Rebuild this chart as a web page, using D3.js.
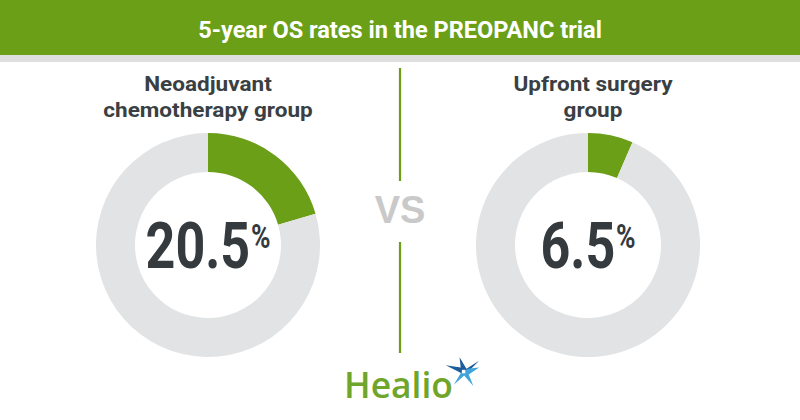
<!DOCTYPE html>
<html>
<head>
<meta charset="utf-8">
<script src="https://cdn.jsdelivr.net/npm/d3@7"></script>
<style>
  html, body { margin: 0; padding: 0; background: #ffffff; }
  svg { display: block; }
</style>
</head>
<body>
<svg id="chart" width="800" height="420"></svg>
<script>
// ---- data ----
const title = "5-year OS rates in the PREOPANC trial";
const groups = ["Neoadjuvant chemotherapy group", "Upfront surgery group"];
const labelLines = [["Neoadjuvant", "chemotherapy group"], ["Upfront surgery", "group"]];
const rates = [20.5, 6.5];
const rateLabels = ["20.5", "6.5"];
const vsText = "VS";
const brand = "Healio";

// ---- styles ----
const GREEN = "#6a9f17";
const RING = "#e2e3e4";
const DARK = "#343a3e";
const W = 800, H = 420;
const svg = d3.select("#chart");

// header
svg.append("rect").attr("x", 0).attr("y", 0).attr("width", W).attr("height", 55).attr("fill", GREEN);
svg.append("rect").attr("x", 0).attr("y", 55).attr("width", W).attr("height", 7).attr("fill", "#dedede");

const tg = svg.append("g").attr("transform", "translate(400,0)");
const tt = tg.append("text")
  .attr("x", 0).attr("y", 38.5)
  .attr("text-anchor", "middle")
  .attr("font-family", "Roboto, 'Open Sans', sans-serif")
  .attr("font-weight", 700)
  .attr("font-size", 23.5)
  .attr("fill", "#ffffff")
  .text(title);
const tw = tt.node().getComputedTextLength();
tt.attr("transform", `scale(${404 / tw},1)`);

// divider
const divider = [[68, 181], [242, 353]];
svg.selectAll("line.div").data(divider).join("line")
  .attr("class", "div")
  .attr("x1", 400).attr("x2", 400)
  .attr("y1", d => d[0]).attr("y2", d => d[1])
  .attr("stroke", GREEN).attr("stroke-width", 2.2);

svg.append("text")
  .attr("x", 400).attr("y", 223)
  .attr("text-anchor", "middle")
  .attr("font-family", "'Liberation Sans', Arial, sans-serif")
  .attr("font-weight", 700)
  .attr("font-size", 38)
  .attr("fill", "#c9c9c9")
  .text(vsText);

// donuts
const x = d3.scalePoint().domain(groups).range([208, 588]);
const cy = 245;
const outerR = 112, innerR = 73;
const pie = d3.pie().sort(null).value(d => d);
const arc = d3.arc().innerRadius(innerR).outerRadius(outerR);

groups.forEach((g, i) => {
  const cx = x(g);
  const gg = svg.append("g").attr("transform", `translate(${cx},${cy})`);
  gg.selectAll("path").data(pie([rates[i], 100 - rates[i]])).join("path")
    .attr("d", arc)
    .attr("fill", (d, j) => j === 0 ? GREEN : RING);

  // value label
  const inner = gg.append("g");
  const num = inner.append("text")
    .attr("x", 0).attr("y", 23)
    .attr("font-family", "Roboto, sans-serif")
    .attr("font-weight", 700)
    .attr("font-size", 65)
    .attr("fill", DARK)
    .text(rateLabels[i]);
  const nw = num.node().getComputedTextLength();
  const pct = inner.append("text")
    .attr("x", nw + 1).attr("y", 3)
    .attr("font-family", "Roboto, sans-serif")
    .attr("font-weight", 700)
    .attr("font-size", 33)
    .attr("fill", DARK)
    .text("%");
  const pw = pct.node().getComputedTextLength();
  const sx = 0.8;
  const total = (nw + 1 + pw) * sx;
  inner.attr("transform", `translate(${-total / 2},0) scale(${sx},1)`);

  // group label
  const lx = cx + (i === 1 ? 5 : 0);
  const lg = svg.append("g").attr("transform", `translate(${lx},0) scale(1.1,1)`);
  const lab = lg.append("text")
    .attr("text-anchor", "middle")
    .attr("font-family", "Roboto, sans-serif")
    .attr("font-weight", 700)
    .attr("font-size", 20.5)
    .attr("fill", "#3a3f43");
  labelLines[i].forEach((line, k) => {
    lab.append("tspan")
      .attr("x", 0)
      .attr("y", 91 + k * 26.5)
      .text(line);
  });
});

// Healio logo
const logo = svg.append("g");
logo.append("text")
  .attr("x", 344).attr("y", 398)
  .attr("font-family", "'Open Sans', 'Liberation Sans', sans-serif")
  .attr("font-weight", 600)
  .attr("font-size", 36)
  .attr("fill", "#6fa52a")
  .attr("textLength", 109)
  .attr("lengthAdjust", "spacingAndGlyphs")
  .text(brand);

const star = logo.append("g").attr("transform", "translate(463,371) scale(1.15)");
// dark blue rays
star.append("path")
  .attr("d", "M-15,-5 L-2,-3 L-3,-12 L3,-2 L14,-9 L4,1 L0,3 L-3,1 Z")
  .attr("fill", "#1d5c9a");
// light blue rays
star.append("path")
  .attr("d", "M4,-2 L14,-3 L5,3 L9,13 L1,4 L-8,12 L-2,2 Z")
  .attr("fill", "#3fa3dc");
star.append("path")
  .attr("d", "M-1,-1 L2,-1 L2,2 L-1,2 Z")
  .attr("fill", "#ffffff");
</script>
</body>
</html>
